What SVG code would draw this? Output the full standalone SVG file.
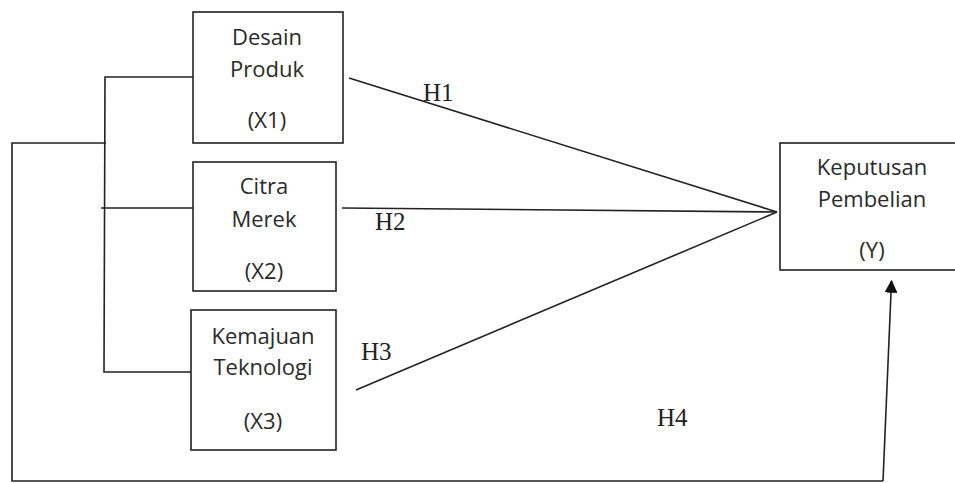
<svg xmlns="http://www.w3.org/2000/svg" width="955" height="483" viewBox="0 0 955 483">
<style>
.box{fill:#fff;stroke:#222;stroke-width:1.6}
.t{font-family:"Open Sans","Segoe UI","DejaVu Sans",sans-serif;font-size:22px;fill:#2a2a2a;text-anchor:middle}
.h{font-family:"Liberation Serif","Times New Roman",serif;font-size:25px;fill:#222}
.c{fill:none;stroke:#222;stroke-width:1.6}
</style>
<defs>
<marker id="arr" viewBox="0 0 10 10" refX="9" refY="5" markerWidth="13" markerHeight="13" markerUnits="userSpaceOnUse" orient="auto">
<path d="M0,0 L10,5 L0,10 Z" fill="#111"/>
</marker>
</defs>
<rect width="955" height="483" fill="#fff"/>
<g id="connectors">
<polyline class="c" points="193,77 105,77 104,372 197,372"/>
<line class="c" x1="101" y1="208" x2="193" y2="208"/>
<polyline class="c" points="106,143 12,143 12,481 883,481"/>
<line class="c" x1="883" y1="481" x2="891.5" y2="281" marker-end="url(#arr)"/>
<line class="c" x1="349" y1="78" x2="777" y2="212"/>
<line class="c" x1="342" y1="208" x2="777" y2="212"/>
<line class="c" x1="356" y1="390" x2="777" y2="212"/>
<text class="h" x="423" y="101">H1</text>
<text class="h" x="375" y="230">H2</text>
<text class="h" x="361" y="360">H3</text>
<text class="h" x="657" y="426">H4</text>
</g>
<g id="x1">
<rect class="box" x="193" y="12" width="150" height="131"/>
<text class="t" x="267" y="45">Desain</text>
<text class="t" x="267" y="77">Produk</text>
<text class="t" x="267" y="128">(X1)</text>
</g>
<g id="x2">
<rect class="box" x="193" y="162" width="143" height="129"/>
<text class="t" x="264" y="194">Citra</text>
<text class="t" x="264" y="227">Merek</text>
<text class="t" x="264" y="279">(X2)</text>
</g>
<g id="x3">
<rect class="box" x="191" y="310" width="145" height="140"/>
<text class="t" x="263" y="344">Kemajuan</text>
<text class="t" x="263" y="375">Teknologi</text>
<text class="t" x="263" y="429">(X3)</text>
</g>
<g id="y">
<rect class="box" x="780" y="143" width="180" height="127"/>
<text class="t" x="872" y="175">Keputusan</text>
<text class="t" x="872" y="207">Pembelian</text>
<text class="t" x="872" y="258">(Y)</text>
</g>
</svg>
